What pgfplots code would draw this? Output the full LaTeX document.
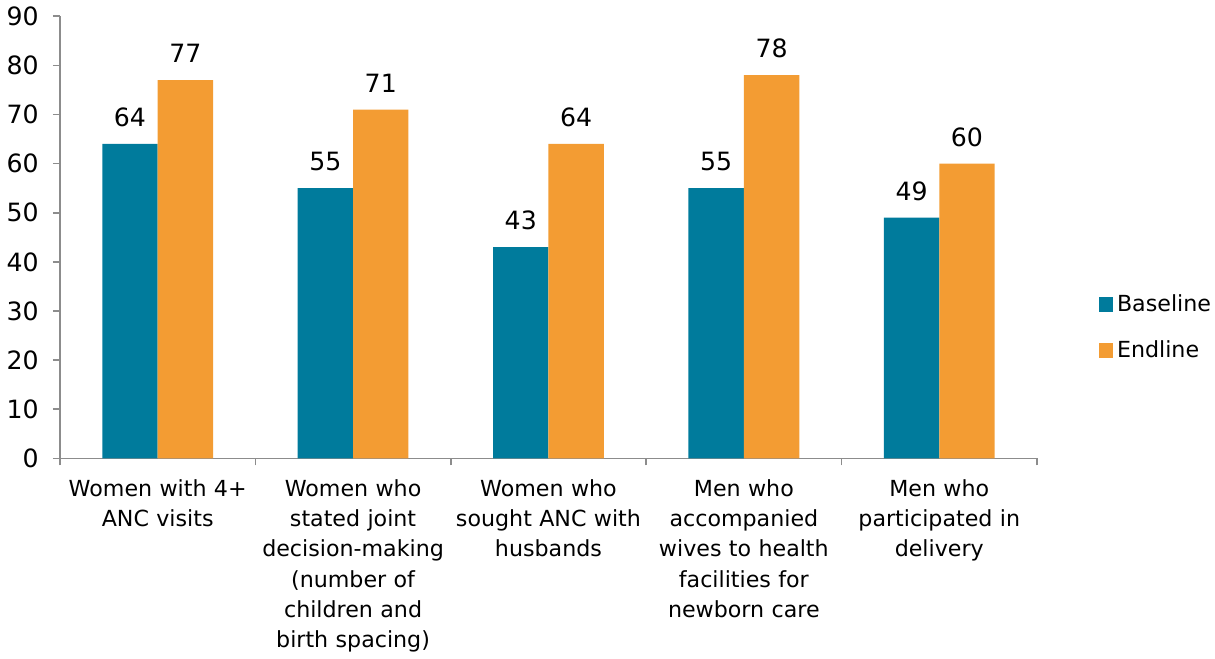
\documentclass[border=0pt]{standalone}
\usepackage{pgfplots}
\pgfplotsset{compat=1.18}
\usepackage{fontspec}
\setmainfont{DejaVu Sans}
\definecolor{teal}{HTML}{007B9C}
\definecolor{orng}{HTML}{F39C33}
\definecolor{axgray}{HTML}{8C8C8C}
\begin{document}
\begin{tikzpicture}
\begin{axis}[
  scale only axis,
  width=485pt, height=219.5pt,
  ybar=0pt, bar width=27.5pt,
  xmin=-0.5, xmax=4.5, ymin=0, ymax=90,
  ytick={0,10,...,90},
  xtick={0,1,2,3,4},
  xticklabels={
    {Women with 4+\\ANC visits},
    {Women who\\stated joint\\decision-making\\(number of\\children and\\birth spacing)},
    {Women who\\sought ANC with\\husbands},
    {Men who\\accompanied\\wives to health\\facilities for\\newborn care},
    {Men who\\participated in\\delivery}},
  minor xtick={-0.5,0.5,1.5,2.5,3.5,4.5},
  major x tick style={draw=none},
  axis lines*=left,
  axis line style={axgray, line width=0.8pt},
  every tick/.style={axgray, line width=0.8pt},
  tick align=outside,
  major tick length=3.5pt, minor tick length=3.5pt,
  font=\fontsize{11}{15}\selectfont,
  /pgf/number format/assume math mode=true,
  yticklabel style={font=\fontsize{12.5}{15}\selectfont, xshift=-3.5pt},
  xticklabel style={font=\fontsize{11}{15}\selectfont, align=center, text width=100pt, yshift=-3.5pt},
  nodes near coords,
  every node near coord/.append style={font=\fontsize{12.5}{15}\selectfont, black, yshift=5pt},
  legend style={draw=none, at={(1.063,0.296)}, anchor=west, font=\fontsize{11}{15}\selectfont,
    row sep=9pt, inner sep=0pt, legend cell align=left},
  legend image code/.code={\fill[#1] (0pt,-3.5pt) rectangle (7pt,3.5pt);},
  clip=false,
]
\addplot[fill=teal, draw=none] coordinates {(0,64) (1,55) (2,43) (3,55) (4,49)};
\addplot[fill=orng, draw=none] coordinates {(0,77) (1,71) (2,64) (3,78) (4,60)};
\legend{Baseline, Endline}
\end{axis}
\end{tikzpicture}
\end{document}
